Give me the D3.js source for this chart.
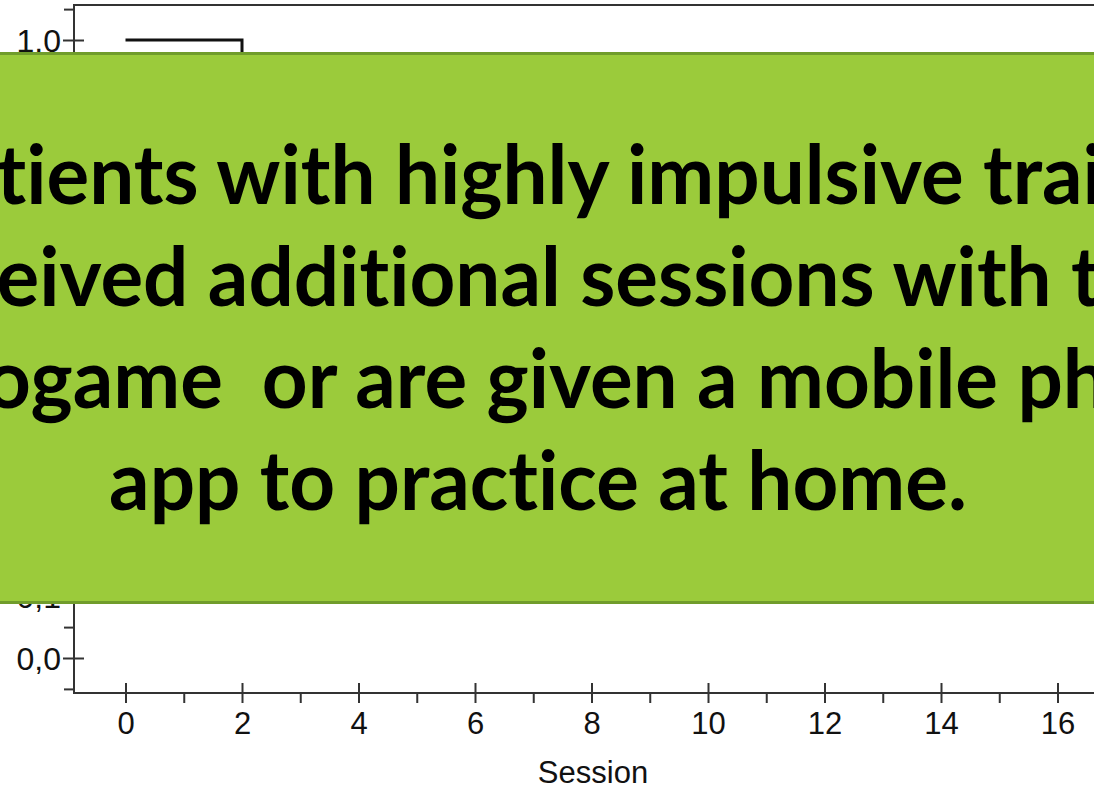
<!DOCTYPE html>
<html>
<head>
<meta charset="utf-8">
<script src="https://cdn.jsdelivr.net/npm/d3@7"></script>
<style>
body { margin: 0; background: #fff; overflow: hidden; }
.axis text { font-family: "Liberation Sans", Arial, sans-serif; fill: #111; }
</style>
</head>
<body>
<script>
//chart values
var sessions = [0, 2, 3, 4, 5, 6, 8, 10, 12, 14, 16, 17];
var survival = [1.0, 0.86, 0.74, 0.63, 0.55, 0.47, 0.40, 0.34, 0.30, 0.27, 0.25, 0.25];
var xMajorTicks = [0, 2, 4, 6, 8, 10, 12, 14, 16];
var xMinorTicks = [1, 3, 5, 7, 9, 11, 13, 15, 17];
var yMajorTicks = [0, 0.1, 0.2, 0.3, 0.4, 0.5, 0.6, 0.7, 0.8, 0.9, 1.0];
var yMinorTicks = [-0.05, 0.05, 0.15, 0.25, 0.35, 0.45, 0.55, 0.65, 0.75, 0.85, 0.95, 1.05];
var calloutLines = [
    "Patients with highly impulsive traits",
    "received additional sessions with the",
    "videogame  or are given a mobile phone",
    "app to practice at home."
];

window.onload = drawChart();

function drawChart(){
    var width = 1094,
        height = 789,
        axisLeftX = 74,
        axisBottomY = 693,
        frameTop = 5;

    var svg = d3.select("body")
        .append("svg")
        .attr("width", width)
        .attr("height", height);

    //scales: 0 -> 125.5px, 16 -> 1057.5px ; 0 -> 658px, 1 -> 40px
    var x = d3.scaleLinear()
        .domain([0, 16])
        .range([125.5, 1057.5]);
    var y = d3.scaleLinear()
        .domain([0, 1])
        .range([658, 40]);

    //frame top line
    svg.append("line")
        .attr("x1", axisLeftX).attr("x2", width)
        .attr("y1", frameTop).attr("y2", frameTop)
        .attr("stroke", "#333")
        .attr("stroke-width", 2);

    //y axis - minor ticks first (outside only)
    svg.append("g")
        .attr("class", "axis")
        .attr("transform", "translate(" + axisLeftX + ",0)")
        .call(d3.axisLeft(y).tickValues(yMinorTicks).tickSize(10).tickFormat(""))
        .call(function(g){ g.select(".domain").remove(); })
        .selectAll("line").attr("stroke", "#333").attr("stroke-width", 2);

    var yAxis = svg.append("g")
        .attr("class", "axis")
        .attr("transform", "translate(" + axisLeftX + ",0)")
        .call(d3.axisLeft(y)
            .tickValues(yMajorTicks)
            .tickSize(11)
            .tickPadding(2)
            .tickFormat(function(d){ return d3.format(".1f")(d).replace(".", ","); }));
    yAxis.select(".domain").remove();
    yAxis.selectAll(".tick line")
        .attr("x1", 10)
        .attr("stroke", "#333")
        .attr("stroke-width", 2);
    yAxis.selectAll(".tick text")
        .attr("font-size", 32)
        .attr("dy", "0.36em");

    svg.append("line")
        .attr("x1", axisLeftX).attr("x2", axisLeftX)
        .attr("y1", frameTop - 1).attr("y2", axisBottomY + 1)
        .attr("stroke", "#333")
        .attr("stroke-width", 2);

    //x axis
    svg.append("g")
        .attr("class", "axis")
        .attr("transform", "translate(0," + axisBottomY + ")")
        .call(d3.axisBottom(x).tickValues(xMinorTicks).tickSize(10).tickFormat(""))
        .call(function(g){ g.select(".domain").remove(); })
        .selectAll("line").attr("stroke", "#333").attr("stroke-width", 2);

    var xAxis = svg.append("g")
        .attr("class", "axis")
        .attr("transform", "translate(0," + axisBottomY + ")")
        .call(d3.axisBottom(x).tickValues(xMajorTicks).tickSize(10).tickPadding(9).tickFormat(d3.format("d")));
    xAxis.select(".domain").remove();
    xAxis.selectAll(".tick line")
        .attr("y1", -10)
        .attr("stroke", "#333")
        .attr("stroke-width", 2);
    xAxis.selectAll(".tick text")
        .attr("font-size", 31);

    svg.append("line")
        .attr("x1", axisLeftX - 1).attr("x2", width)
        .attr("y1", axisBottomY).attr("y2", axisBottomY)
        .attr("stroke", "#333")
        .attr("stroke-width", 2);

    svg.append("text")
        .attr("class", "axisTitle")
        .attr("x", 593)
        .attr("y", 783)
        .attr("text-anchor", "middle")
        .style("font-family", "'Liberation Sans', Arial, sans-serif")
        .style("font-size", "31px")
        .style("fill", "#111")
        .text("Session");

    //step curve
    var points = sessions.map(function(s, i){ return [s, survival[i]]; });
    var stepLine = d3.line()
        .x(function(d){ return x(d[0]); })
        .y(function(d){ return y(d[1]); })
        .curve(d3.curveStepAfter);

    svg.append("path")
        .datum(points)
        .attr("class", "curve")
        .attr("d", stepLine)
        .attr("fill", "none")
        .attr("stroke", "#111")
        .attr("stroke-width", 3);

    //green callout box over the chart
    svg.append("rect")
        .attr("x", -20)
        .attr("y", 53.5)
        .attr("width", width + 40)
        .attr("height", 549)
        .attr("fill", "#9BCB3B")
        .attr("stroke", "#709C2B")
        .attr("stroke-width", 3);

    var textCenter = 538,
        firstBaseline = 204,
        lineGap = 102;

    var callout = svg.append("g").attr("class", "callout");
    var texts = callout.selectAll("text")
        .data(calloutLines)
        .enter()
        .append("text")
        .attr("text-anchor", "middle")
        .attr("x", 0)
        .attr("y", 0)
        .style("font-family", "Lato, 'Open Sans', sans-serif")
        .style("font-weight", "700")
        .style("font-size", "82px")
        .style("font-variant-ligatures", "none")
        .style("fill", "#000")
        .style("white-space", "pre")
        .text(function(d){ return d; });

    //squeeze horizontally so the last line spans the same width as the reference
    var lastWidth = texts.nodes()[calloutLines.length - 1].getBBox().width;
    var squeeze = 858 / lastWidth;
    texts.attr("transform", function(d, i){
        return "translate(" + textCenter + "," + (firstBaseline + i * lineGap) + ") scale(" + squeeze + ",1)";
    });
}
</script>
</body>
</html>
